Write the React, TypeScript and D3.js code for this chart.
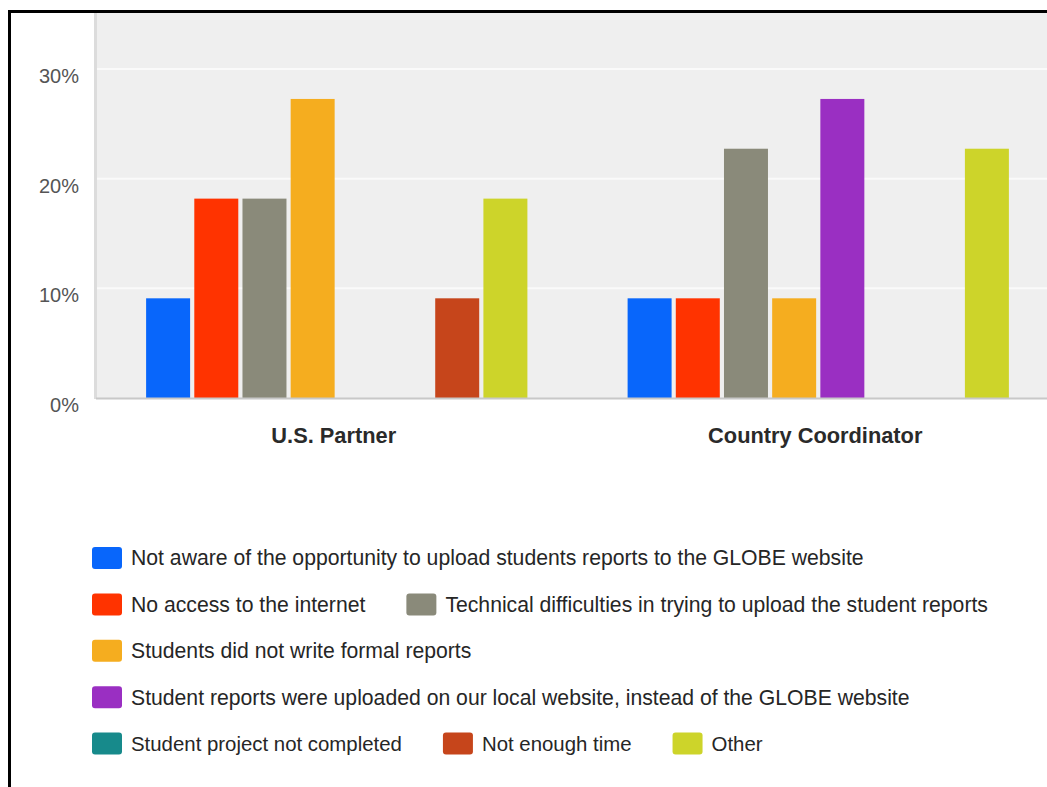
import React, { useEffect, useRef } from 'react';
import * as d3 from 'd3';

const categories = ['U.S. Partner', 'Country Coordinator'];

const seriesNames = [
    'Not aware of the opportunity to upload students reports to the GLOBE website',
    'No access to the internet',
    'Technical difficulties in trying to upload the student reports',
    'Students did not write formal reports',
    'Student reports were uploaded on our local website, instead of the GLOBE website',
    'Student project not completed',
    'Not enough time',
    'Other',
];

const seriesColors = ['#0866fb', '#ff3300', '#8a8a7a', '#f5ad1f', '#9a2fc2', '#178a8b', '#c6451b', '#cdd42a'];

// percentages per category, in series order
const usPartner = [9.09, 18.18, 18.18, 27.27, 0, 0, 9.09, 18.18];
const countryCoordinator = [9.09, 9.09, 22.73, 9.09, 27.27, 0, 0, 22.73];
const values = [usPartner, countryCoordinator];

const yTicks = [0, 10, 20, 30];

// which series share a legend line
const legendRows = [[0], [1, 2], [3], [4], [5, 6, 7]];

const FONT = '"Liberation Sans", Arial, sans-serif';

const drawChart = (svgEl: SVGSVGElement) => {
    const W = 1047;
    const H = 787;
    const svg = d3.select(svgEl);
    svg.selectAll('*').remove();

    const plot = { left: 96, right: 1059, top: 13, bottom: 398 };

    // --- frame ---
    svg.append('rect')
        .attr('x', 9.5).attr('y', 11.5)
        .attr('width', W + 20).attr('height', H + 20)
        .attr('fill', '#fff')
        .attr('stroke', '#000')
        .attr('stroke-width', 3);

    // --- scales ---
    const x0 = d3.scaleBand<string>()
        .domain(categories)
        .range([plot.left, plot.right])
        .padding(0);

    const x1 = d3.scaleBand<number>()
        .domain(d3.range(seriesNames.length))
        .range([0, x0.bandwidth()])
        .paddingInner(0.087)
        .paddingOuter(1.04);

    const y = d3.scaleLinear()
        .domain([0, 30])
        .range([plot.bottom, 69]);

    // --- plot background ---
    svg.append('rect')
        .attr('x', plot.left)
        .attr('y', plot.top)
        .attr('width', plot.right - plot.left)
        .attr('height', plot.bottom - plot.top)
        .attr('fill', '#efefef');

    // gridlines
    svg.selectAll('.grid')
        .data(yTicks.filter(t => t > 0))
        .enter()
        .append('line')
        .attr('x1', plot.left).attr('x2', plot.right)
        .attr('y1', d => y(d)).attr('y2', d => y(d))
        .attr('stroke', '#fafafa')
        .attr('stroke-width', 2);

    // left axis line
    svg.append('line')
        .attr('x1', 95.5).attr('x2', 95.5)
        .attr('y1', plot.top).attr('y2', plot.bottom + 1)
        .attr('stroke', '#dcdcdc')
        .attr('stroke-width', 3);

    // --- bars ---
    const groups = svg.selectAll('.group')
        .data(categories)
        .enter()
        .append('g')
        .attr('transform', d => `translate(${x0(d)}, 0)`);

    groups.selectAll('rect')
        .data((_d, ci) => values[ci].map((v, si) => ({ v, si })).filter(d => d.v > 0))
        .enter()
        .append('rect')
        .attr('x', d => x1(d.si) as number)
        .attr('y', d => y(d.v))
        .attr('width', x1.bandwidth())
        .attr('height', d => y(0) - y(d.v))
        .attr('fill', d => seriesColors[d.si]);

    // baseline
    svg.append('line')
        .attr('x1', plot.left).attr('x2', plot.right)
        .attr('y1', plot.bottom + 0.5).attr('y2', plot.bottom + 0.5)
        .attr('stroke', '#c8c8c8')
        .attr('stroke-width', 2);

    // --- y labels ---
    svg.selectAll('.ylab')
        .data(yTicks)
        .enter()
        .append('text')
        .attr('x', 79)
        .attr('y', d => y(d) + 7)
        .attr('dy', '0.35em')
        .attr('text-anchor', 'end')
        .style('font-family', FONT)
        .style('font-size', '20px')
        .style('fill', '#555')
        .text(d => `${d}%`);

    // --- category labels ---
    svg.selectAll('.xlab')
        .data(categories)
        .enter()
        .append('text')
        .attr('x', d => (x0(d) as number) + x0.bandwidth() / 2 - 3)
        .attr('y', 435)
        .attr('dy', '0.35em')
        .attr('text-anchor', 'middle')
        .style('font-family', FONT)
        .style('font-size', '21.8px')
        .style('font-weight', 'bold')
        .style('fill', '#2a2a2a')
        .text(d => d);

    // --- legend ---
    const legendTop = 558;
    const rowStep = 46.4;
    legendRows.forEach((row, ri) => {
        const cy = legendTop + ri * rowStep;
        // the last legend line is set a little narrower in the original
        const fontSize = ri === legendRows.length - 1 ? '20.4px' : '21.2px';
        let lx = 92;
        row.forEach(si => {
            svg.append('rect')
                .attr('x', lx)
                .attr('y', cy - 11)
                .attr('width', 30)
                .attr('height', 22)
                .attr('rx', 3)
                .attr('fill', seriesColors[si]);
            const t = svg.append('text')
                .attr('x', lx + 39)
                .attr('y', cy)
                .attr('dy', '0.35em')
                .style('font-family', FONT)
                .style('font-size', fontSize)
                .style('fill', '#262626')
                .text(seriesNames[si]);
            const len = (t.node() as SVGTextElement).getComputedTextLength();
            lx = lx + 39 + len + 41;
        });
    });
};

const App: React.FC = () => {
    const svgRef = useRef<SVGSVGElement | null>(null);

    useEffect(() => {
        if (svgRef.current) drawChart(svgRef.current);
    }, []);

    return (
        <svg
            ref={svgRef}
            width={1047}
            height={787}
            style={{ position: 'absolute', left: 0, top: 0, display: 'block', background: '#fff' }}
        />
    );
};

export default App;
